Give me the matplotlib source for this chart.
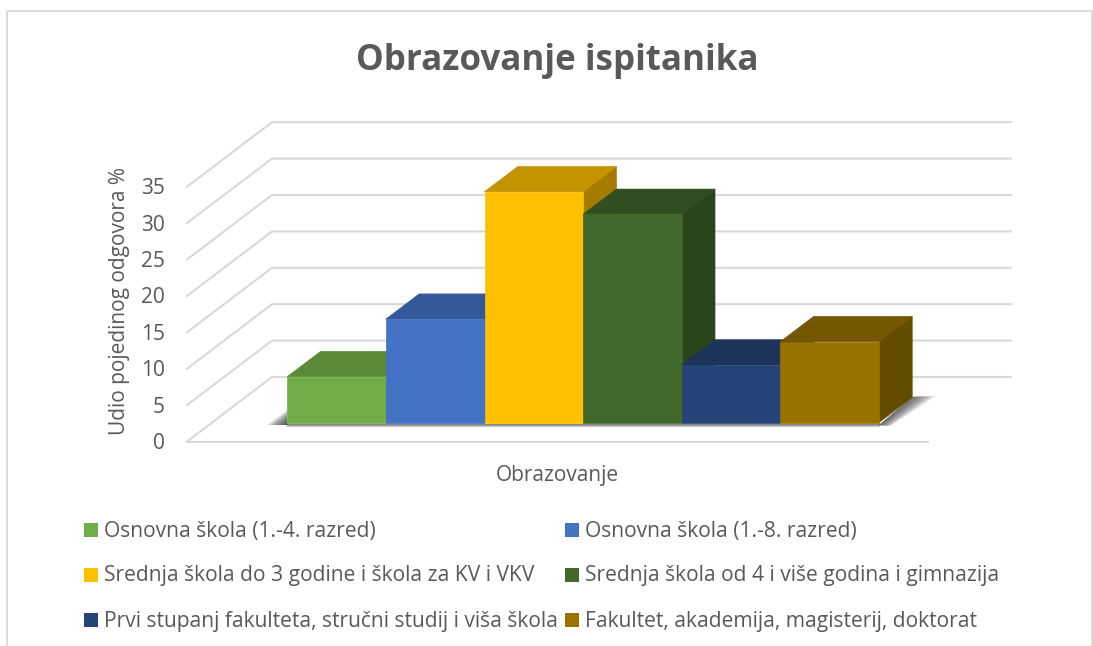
import matplotlib
matplotlib.use('Agg')
import matplotlib.pyplot as plt
from matplotlib.patches import Polygon, Rectangle

plt.rcParams['font.family'] = ['Open Sans', 'DejaVu Sans']

categories = ['Osnovna škola (1.-4. razred)', 'Osnovna škola (1.-8. razred)',
              'Srednja škola do 3 godine i škola za KV i VKV', 'Srednja škola od 4 i više godina i gimnazija',
              'Prvi stupanj fakulteta, stručni studij i viša škola', 'Fakultet, akademija, magisterij, doktorat']
values = [6.3, 14.2, 31.7, 28.6, 7.9, 11.1]
ticks = [0, 5, 10, 15, 20, 25, 30, 35]

front_col = ['#70AD47', '#4472C4', '#FFC000', '#43682B', '#264478', '#997300']
top_col = ['#5A8A38', '#34599A', '#C49300', '#324E20', '#1C335A', '#745700']
side_col = ['#4C7530', '#2C4C85', '#A67C00', '#2A441B', '#172B4C', '#634B00']
grey = '#595959'
grid = '#D9D9D9'

# okvir je u pikselima slike, vrijednost -> piksel
unit = 36.4 / 5
floor_front = 441.5
floor_back = 377.0
bar_base = 422.5
dx, dy = 33.3, 25.2
bar_left, bar_w = 287.3, 98.6

fig = plt.figure(figsize=(10.93, 6.46), dpi=100)
ax = fig.add_axes([0, 0, 1, 1])
ax.set_xlim(0, 1093)
ax.set_ylim(646, 0)
ax.axis('off')

# vanjski okvir
ax.plot([6.5, 6.5, 1091.5, 1091.5], [646, 11, 11, 646], color='#D9D9D9', lw=1.3)

# mreza
for t in ticks:
    y0 = floor_front - t * unit
    y1 = floor_back - t * unit
    ax.plot([187, 272, 1011], [y0, y1, y1], color=grid, lw=1.5, solid_joinstyle='miter', zorder=1)
    ax.text(165, y0 + 2, str(t), ha='right', va='center', fontsize=15, color=grey)
ax.plot([187, 928], [floor_front, floor_front], color=grid, lw=1.5, zorder=1)

# sjena - slojevi s prijelazom, lijevo, desno i tanka crta ispod stupaca
bar_right = bar_left + bar_w * len(values)
for w in range(2, 25, 2):
    ax.add_patch(Polygon([(bar_right, 425), (bar_right + dx, 397), (bar_right + dx + w, 396),
                          (bar_right + w * 0.5, 426)],
                         facecolor='#303030', edgecolor='none', alpha=0.09, zorder=2))
for w in range(2, 21, 2):
    ax.add_patch(Polygon([(bar_left, 425), (bar_left, 425 - w * 0.75), (bar_left - w, 425)],
                         facecolor='#303030', edgecolor='none', alpha=0.14, zorder=2))
for k in range(3):
    ax.plot([bar_left, bar_right], [423.5 + k, 423.5 + k], color='#404040', lw=1,
            alpha=0.6 - 0.2 * k, zorder=2)

# stupci
for i, v in enumerate(values):
    x0 = bar_left + i * bar_w
    x1 = x0 + bar_w
    top = bar_base - v * unit
    ax.add_patch(Polygon([(x1, bar_base), (x1 + dx, bar_base - dy), (x1 + dx, top - dy), (x1, top)],
                         facecolor=side_col[i], edgecolor=side_col[i], lw=0.5, zorder=3 + i))
    ax.add_patch(Polygon([(x0, top), (x0 + dx, top - dy), (x1 + dx, top - dy), (x1, top)],
                         facecolor=top_col[i], edgecolor=top_col[i], lw=0.5, zorder=3 + i))
    ax.add_patch(Rectangle((x0, top), bar_w, v * unit, facecolor=front_col[i], edgecolor=front_col[i],
                           lw=0.5, zorder=3 + i))

# tekstovi
ax.text(557, 61, 'Obrazovanje ispitanika', ha='center', va='center', fontsize=25.2, fontweight='bold', color=grey)
ax.text(119, 301, 'Udio pojedinog odgovora %', rotation=90, ha='center', va='center', fontsize=15, color=grey)
ax.text(557, 475, 'Obrazovanje', ha='center', va='center', fontsize=15, color=grey)

# legenda
leg_x = [84, 565]
leg_y = [530, 575, 620]
for i, name in enumerate(categories):
    x = leg_x[i % 2]
    y = leg_y[i // 2]
    ax.add_patch(Rectangle((x, y - 7), 14, 14, facecolor=front_col[i], edgecolor='none'))
    ax.text(x + 20, y + 6.5, name, ha='left', va='baseline', fontsize=15.1, color=grey)

fig.savefig('out.png', dpi=100, facecolor='white')
